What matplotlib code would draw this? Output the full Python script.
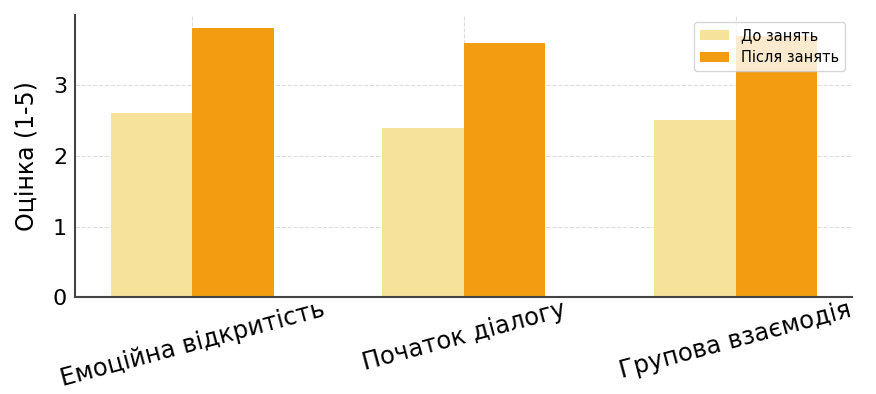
import numpy as np
import matplotlib.pyplot as plt

categories = ['Емоційна відкритість', 'Початок діалогу', 'Групова взаємодія']
before = [2.6, 2.4, 2.5]
after = [3.8, 3.6, 3.7]

x = np.arange(len(categories))
w = 0.3

fig, ax = plt.subplots(figsize=(8.76, 3.94), dpi=100)
ax.bar(x - w / 2, before, w, color='#F7E29C', label='До занять', zorder=2)
ax.bar(x + w / 2, after, w, color='#F39C12', label='Після занять', zorder=2)

ax.set_xticks(x)
ax.set_xticklabels(categories, rotation=15, ha='center', fontsize=17.5)
ax.tick_params(axis='y', labelsize=16, length=0, pad=6)
ax.tick_params(axis='x', length=0, pad=0)
ax.set_ylabel('Оцінка (1-5)', fontsize=17, labelpad=10)
ax.set_yticks([0, 1, 2, 3])
ax.grid(True, linestyle='--', color='#dddddd', linewidth=0.8, zorder=0)
for s in ['top', 'right']:
    ax.spines[s].set_visible(False)
for s in ['left', 'bottom']:
    ax.spines[s].set_color('#444444')
    ax.spines[s].set_linewidth(1.5)
ax.legend(loc='upper right', fontsize=10.5)

fig.subplots_adjust(left=0.086, right=0.973, top=0.962, bottom=0.245)
fig.savefig('out.png')
